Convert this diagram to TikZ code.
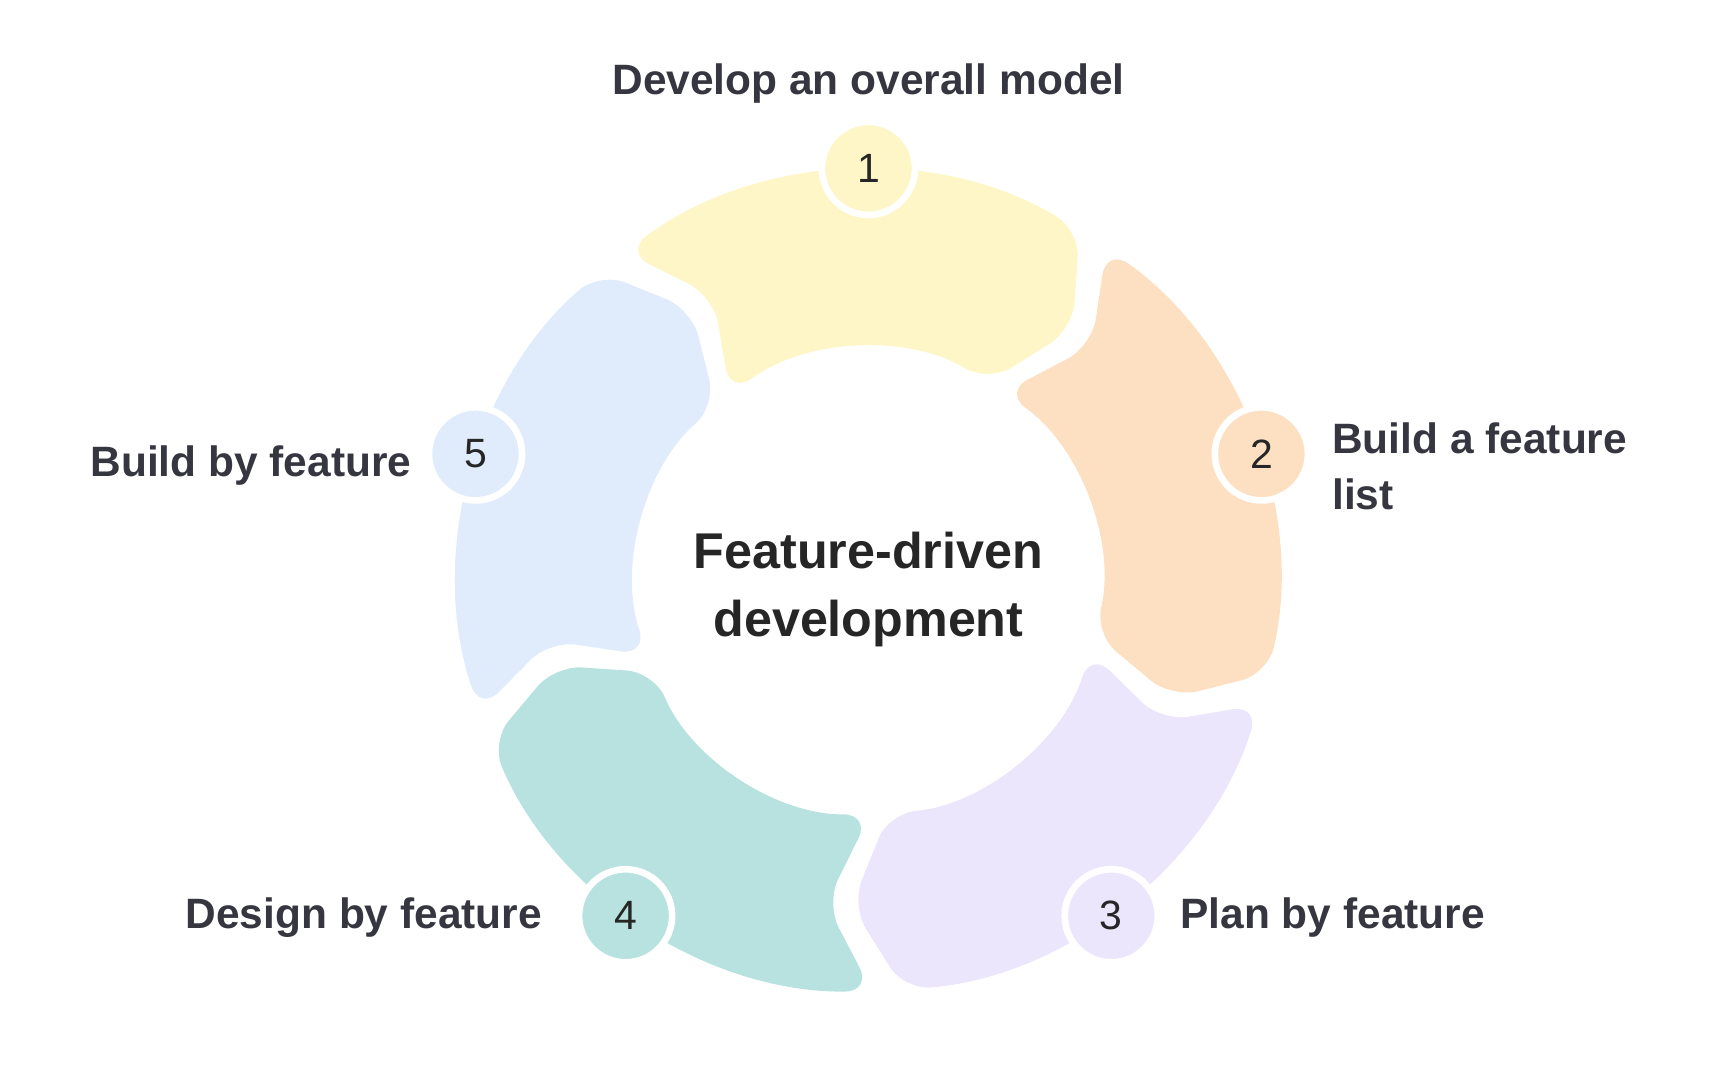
\documentclass[tikz,border=0pt]{standalone}
\usepackage{fontspec}
\setmainfont{Liberation Sans}
\begin{document}
\begin{tikzpicture}[x=0.01cm,y=0.01cm]
\definecolor{cY}{HTML}{FEF6C6}
\definecolor{cO}{HTML}{FDDFC2}
\definecolor{cP}{HTML}{ECE6FD}
\definecolor{cT}{HTML}{B7E2E0}
\definecolor{cB}{HTML}{E0ECFC}
\definecolor{txt}{HTML}{363640}
\tikzset{
  num/.style={circle,minimum size=0.84cm,inner sep=0,draw=white,line width=0.6mm,font=\fontsize{10.5}{12}\selectfont,text=black!85},
  lbl/.style={font=\bfseries\fontsize{10.9}{14.5}\selectfont,text=txt,inner sep=0},
}
\useasboundingbox (0,0) rectangle (1560,-975);
\coordinate (c) at (784,-525);
\def\Ro{370}\def\Ri{210}\def\Rm{293}
\foreach \col [count=\k from 0] in {cY,cO,cP,cT,cB}{
  \pgfmathsetmacro\tt{128.75-72*\k-2.25}
  \pgfmathsetmacro\hh{56.75-72*\k+2.25}
  \pgfmathsetmacro\tn{\tt-8}
  \pgfmathsetmacro\hn{\hh-8}
  \fill[\col,rounded corners=7] ([shift={(\tt:\Ro)}]c) arc[start angle=\tt,end angle=\hh,radius=\Ro]
     -- ([shift={(\hn:\Rm)}]c) -- ([shift={(\hh:\Ri)}]c)
     arc[start angle=\hh,end angle=\tt,radius=\Ri] -- ([shift={(\tn:\Rm)}]c) -- cycle;
}
\node[num,fill=cY] (n1) at ([shift={(90:373)}]c) {1};
\node[num,fill=cO] (n2) at ([shift={(18:373)}]c) {2};
\node[num,fill=cP] (n3) at ([shift={(-54:373)}]c) {3};
\node[num,fill=cT] (n4) at ([shift={(-126:373)}]c) {4};
\node[num,fill=cB] (n5) at ([shift={(162:373)}]c) {5};
\node[lbl] (l1) at (784,-75) {Develop an overall model};
\node[lbl,anchor=west,align=left] (l2) at (1202,-421) {Build a feature\\list};
\node[lbl,anchor=west] (l3) at (1065,-828) {Plan by feature};
\node[lbl,anchor=east] (l4) at (490,-828) {Design by feature};
\node[lbl,anchor=east] (l5) at (372,-420) {Build by feature};
\node[font=\bfseries\fontsize{12.9}{17.5}\selectfont,text=black!85,align=center] (t) at (784,-532) {Feature-driven\\development};
\end{tikzpicture}
\end{document}
